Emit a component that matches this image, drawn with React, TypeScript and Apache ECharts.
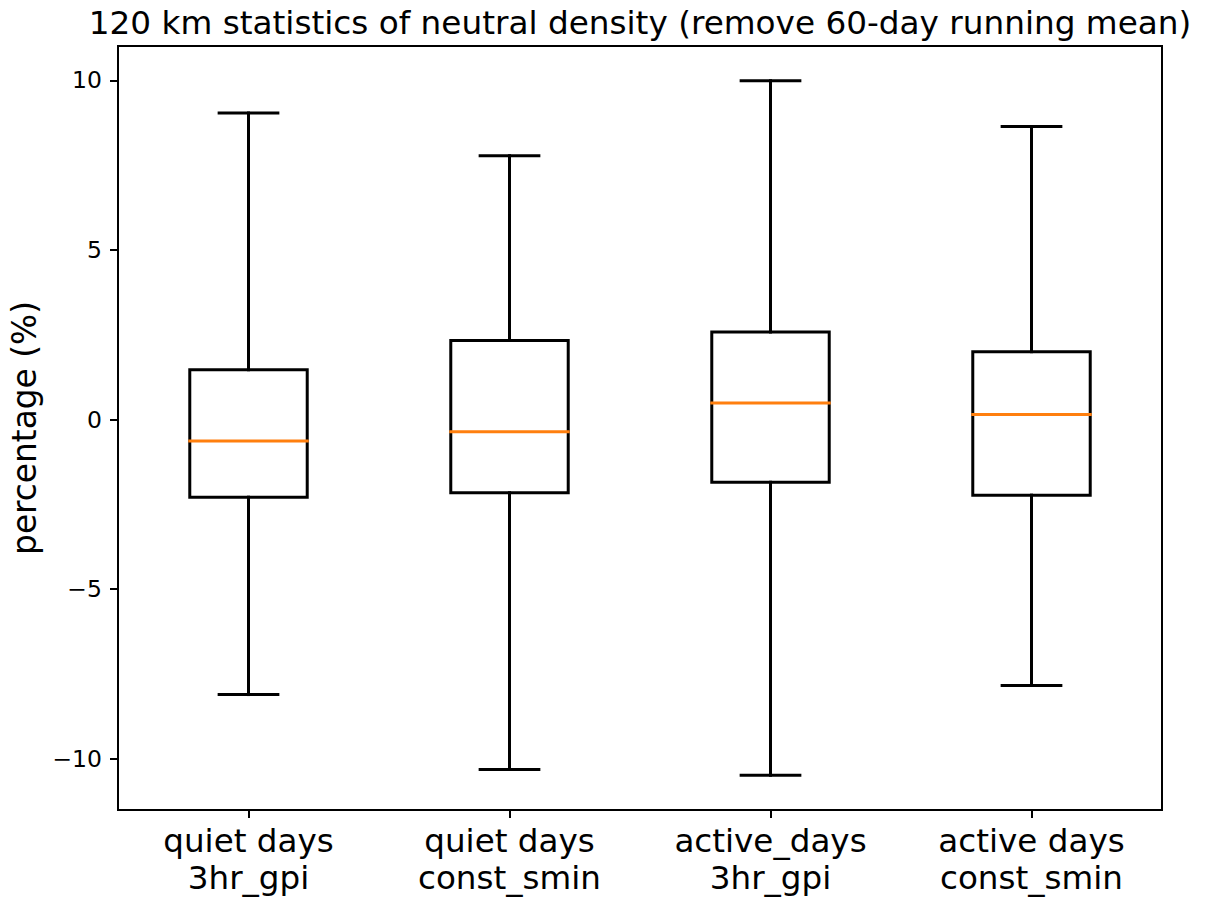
import React, { useEffect, useRef } from "react";
import * as echarts from "echarts";

const categories = [
  "quiet days\n3hr_gpi",
  "quiet days\nconst_smin",
  "active_days\n3hr_gpi",
  "active days\nconst_smin",
];
const whiskerLow = [-8.11, -10.32, -10.49, -7.84];
const quartile1 = [-2.29, -2.16, -1.85, -2.23];
const medians = [-0.63, -0.36, 0.49, 0.15];
const quartile3 = [1.47, 2.33, 2.58, 2.0];
const whiskerHigh = [9.04, 7.78, 9.99, 8.64];
const yTicks = [-10, -5, 0, 5, 10];

const FONT = "DejaVu Sans";
const BOX_FRAC = 0.45;
const CAP_FRAC = 0.5;

export default function App() {
  const ref = useRef<HTMLDivElement>(null);
  useEffect(() => {
    if (!ref.current) return;
    const chart = echarts.init(ref.current, null, { renderer: "svg" });
    const lo = Math.min(...whiskerLow);
    const hi = Math.max(...whiskerHigh);
    const pad = (hi - lo) * 0.05;
    const data = categories.map((_, i) => [
      i,
      whiskerLow[i],
      quartile1[i],
      medians[i],
      quartile3[i],
      whiskerHigh[i],
    ]);
    const minus = (v: number) => (v < 0 ? "\u2212" + Math.abs(v) : String(v));
    chart.setOption({
      animation: false,
      backgroundColor: "#fff",
      title: {
        text: "120 km statistics of neutral density (remove 60-day running mean)",
        left: 640,
        top: 6,
        textAlign: "center",
        padding: 0,
        textStyle: { fontFamily: FONT, fontSize: 32.7, fontWeight: "normal", color: "#000" },
      },
      grid: {
        left: 118,
        top: 46,
        width: 1044,
        height: 764,
        show: true,
        borderColor: "#000",
        borderWidth: 2,
        backgroundColor: "transparent",
      },
      xAxis: {
        type: "category",
        data: categories,
        boundaryGap: true,
        position: "bottom",
        axisLine: { show: false, onZero: false },
        axisTick: { show: true, alignWithLabel: true, length: 8, lineStyle: { color: "#000", width: 2 } },
        axisLabel: {
          color: "#000",
          fontFamily: FONT,
          fontSize: 32.6,
          lineHeight: 37,
          margin: 12,
          interval: 0,
        },
        splitLine: { show: false },
      },
      yAxis: {
        type: "value",
        min: lo - pad,
        max: hi + pad,
        name: "percentage (%)",
        nameLocation: "middle",
        nameGap: 66,
        nameTextStyle: { fontFamily: FONT, fontSize: 32.8, color: "#000" },
        axisLine: { show: false, onZero: false },
        axisTick: {
          show: true,
          length: 8,
          customValues: yTicks,
          lineStyle: { color: "#000", width: 2 },
        },
        axisLabel: {
          customValues: yTicks,
          color: "#000",
          fontFamily: FONT,
          fontSize: 23.5,
          margin: 16,
          formatter: (v: number) => minus(v),
        },
        splitLine: { show: false },
      },
      series: [
        {
          type: "custom",
          clip: false,
          data,
          encode: { x: 0, y: [1, 2, 3, 4, 5] },
          renderItem: (params: any, api: any) => {
            const idx = api.value(0);
            const pLo = api.coord([idx, api.value(1)]);
            const pQ1 = api.coord([idx, api.value(2)]);
            const pMed = api.coord([idx, api.value(3)]);
            const pQ3 = api.coord([idx, api.value(4)]);
            const pHi = api.coord([idx, api.value(5)]);
            const band = api.size([1, 0])[0];
            const bw = band * BOX_FRAC;
            const cw = bw * CAP_FRAC;
            const x = pLo[0];
            const lineStyle = { stroke: "#000", lineWidth: 3, lineCap: "square" };
            return {
              type: "group",
              children: [
                {
                  type: "line",
                  shape: { x1: x, y1: pQ1[1], x2: x, y2: pLo[1] },
                  style: lineStyle,
                },
                {
                  type: "line",
                  shape: { x1: x, y1: pQ3[1], x2: x, y2: pHi[1] },
                  style: lineStyle,
                },
                {
                  type: "line",
                  shape: { x1: x - cw / 2, y1: pLo[1], x2: x + cw / 2, y2: pLo[1] },
                  style: lineStyle,
                },
                {
                  type: "line",
                  shape: { x1: x - cw / 2, y1: pHi[1], x2: x + cw / 2, y2: pHi[1] },
                  style: lineStyle,
                },
                {
                  type: "rect",
                  shape: { x: x - bw / 2, y: pQ3[1], width: bw, height: pQ1[1] - pQ3[1] },
                  style: { fill: "none", stroke: "#000", lineWidth: 3, lineJoin: "miter" },
                },
                {
                  type: "line",
                  shape: { x1: x - bw / 2, y1: pMed[1], x2: x + bw / 2, y2: pMed[1] },
                  style: { stroke: "#ff7f0e", lineWidth: 3, lineCap: "square" },
                },
              ],
            };
          },
        },
      ],
    });
    return () => chart.dispose();
  }, []);
  return (
    <div
      ref={ref}
      style={{ position: "absolute", left: 0, top: 0, width: 1209, height: 909 }}
    />
  );
}
